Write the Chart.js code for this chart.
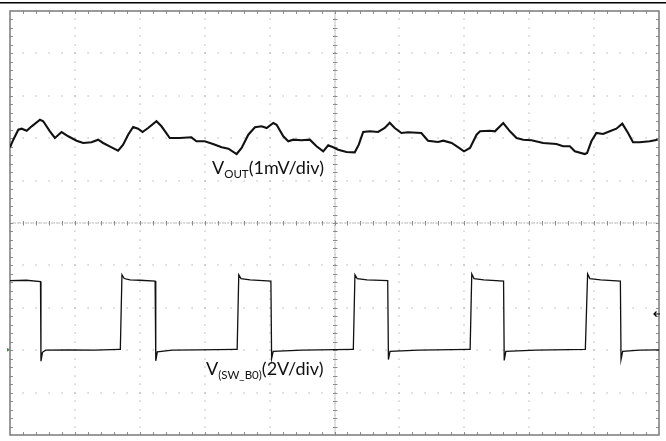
<!DOCTYPE html>
<html>
<head>
<meta charset="utf-8">
<script src="https://cdn.jsdelivr.net/npm/chart.js@4.4.1/dist/chart.umd.min.js"></script>
<style>
  html, body { margin: 0; padding: 0; background: #ffffff; }
  #wrap { width: 666px; height: 441px; position: relative; }
</style>
</head>
<body>
<div id="wrap"><canvas id="c" width="666" height="441"></canvas></div>
<script>
// Screen geometry in divisions
const X_DIVS = 10;
const Y_MIN = -5, Y_MAX = 5;

// Trace 1: V_OUT (1 mV/div) — time in divisions, level in divisions
const voutTime = [0,0.051,0.128,0.18,0.257,0.334,0.462,0.512,0.615,0.692,0.795,0.897,1.026,1.128,1.257,1.358,1.435,1.565,1.666,1.743,1.82,1.897,1.974,2.042,2.128,2.257,2.334,2.462,2.615,2.795,2.872,3.0,3.128,3.262,3.365,3.492,3.569,3.672,3.774,3.877,3.954,4.057,4.108,4.211,4.288,4.365,4.492,4.62,4.723,4.826,4.903,4.98,5.057,5.185,5.312,5.374,5.442,5.543,5.672,5.774,5.851,5.928,6.031,6.134,6.338,6.441,6.595,6.677,6.805,6.908,6.995,7.088,7.189,7.242,7.395,7.472,7.6,7.703,7.805,7.908,8.035,8.215,8.42,8.523,8.626,8.703,8.857,8.892,8.958,9.035,9.138,9.242,9.343,9.435,9.523,9.6,9.703,9.857,9.98];
const voutLevel = [1.785,1.965,2.2,2.224,2.177,2.28,2.436,2.399,2.163,2.005,2.146,2.045,1.941,1.887,1.903,1.965,1.887,1.785,1.705,1.847,2.083,2.264,2.224,2.146,2.241,2.399,2.281,2.005,2.005,2.021,1.927,1.927,1.863,1.785,1.752,1.627,1.769,2.083,2.257,2.281,2.241,2.358,2.318,2.045,1.927,1.965,1.95,1.965,1.809,1.691,1.833,1.785,1.729,1.675,1.667,1.847,2.146,2.163,2.146,2.241,2.366,2.241,2.123,2.139,2.123,1.941,1.91,1.941,1.887,1.785,1.691,1.769,2.083,2.163,2.177,2.163,2.358,2.163,2.005,1.965,1.95,1.887,1.863,1.809,1.809,1.691,1.627,1.651,1.927,2.123,2.099,2.163,2.224,2.342,2.123,1.903,1.903,1.927,1.965];

// Trace 2: V(SW_B0) (2 V/div)
const swTime = [0,0.25,0.47,0.477,0.5,0.55,0.9,1.3,1.69,
  1.70,1.725,1.76,1.85,2.0,2.236,2.246,2.27,2.5,2.9,3.49,
  3.50,3.525,3.56,3.7,4.02,4.031,4.055,4.5,5.28,
  5.29,5.315,5.35,5.5,5.82,5.831,5.855,6.3,7.08,
  7.09,7.115,7.15,7.3,7.605,7.615,7.64,8.1,8.865,
  8.875,8.9,8.935,9.1,9.405,9.415,9.44,9.7,10];
const swLevel = [-1.36,-1.35,-1.38,-3.26,-3.05,-3.0,-2.99,-3.0,-2.98,
  -2.98,-1.22,-1.31,-1.34,-1.35,-1.37,-3.25,-3.04,-3.0,-2.99,-2.98,
  -2.98,-1.22,-1.31,-1.34,-1.37,-3.2,-3.03,-3.0,-2.98,
  -2.98,-1.22,-1.31,-1.34,-1.36,-3.22,-3.03,-3.0,-2.98,
  -2.98,-1.2,-1.31,-1.34,-1.37,-3.24,-3.03,-3.0,-2.98,
  -2.98,-1.2,-1.31,-1.34,-1.37,-3.22,-3.03,-3.0,-2.99];

// Marker levels (divisions)
const triggerLevel = -2.146;
const ch2Ground = -2.99;

const toPts = (xs, ys) => xs.map((v, i) => ({ x: v, y: ys[i] }));

const scopePlugin = {
  id: 'scope',
  beforeDatasetsDraw(chart) {
    const { ctx, chartArea: a, scales: { x, y } } = chart;
    ctx.save();
    // dotted major grid lines
    ctx.fillStyle = '#a0a0a0';
    for (let i = 1; i < X_DIVS; i++) {
      if (i === X_DIVS / 2) continue;
      const px = Math.round(x.getPixelForValue(i));
      for (let j = 1; j < (Y_MAX - Y_MIN) * 5; j++) {
        const py = Math.round(y.getPixelForValue(Y_MIN + j / 5));
        ctx.fillRect(px - 0.5, py - 0.5, 1, 1.2);
      }
    }
    for (let k = Y_MIN + 1; k < Y_MAX; k++) {
      if (k === 0) continue;
      const py = Math.round(y.getPixelForValue(k));
      for (let j = 1; j < X_DIVS * 5; j++) {
        const px = Math.round(x.getPixelForValue(j / 5));
        ctx.fillRect(px - 0.5, py - 0.5, 1.2, 1);
      }
    }
    // center cross lines, finely dotted, with minor ticks
    const cx = Math.round(x.getPixelForValue(X_DIVS / 2));
    const cy = Math.round(y.getPixelForValue(0));
    ctx.fillStyle = '#8c8c8c';
    for (let j = 1; j < X_DIVS * 25; j++) {
      const px = Math.round(x.getPixelForValue(j / 25));
      ctx.fillRect(px - 0.5, cy - 0.5, 1.2, 1);
    }
    for (let j = 1; j < (Y_MAX - Y_MIN) * 25; j++) {
      const py = Math.round(y.getPixelForValue(Y_MIN + j / 25));
      ctx.fillRect(cx - 0.5, py - 0.5, 1, 1);
    }
    ctx.strokeStyle = '#8c8c8c';
    ctx.lineWidth = 1;
    ctx.beginPath();
    for (let j = 1; j < X_DIVS * 5; j++) {
      const px = Math.round(x.getPixelForValue(j / 5)) + 0.5;
      ctx.moveTo(px, cy - 2); ctx.lineTo(px, cy + 2.5);
      ctx.moveTo(px, a.top); ctx.lineTo(px, a.top + 3);
      ctx.moveTo(px, a.bottom); ctx.lineTo(px, a.bottom - 3);
    }
    for (let j = 1; j < (Y_MAX - Y_MIN) * 5; j++) {
      const py = Math.round(y.getPixelForValue(Y_MIN + j / 5)) + 0.5;
      ctx.moveTo(cx - 2, py); ctx.lineTo(cx + 2.5, py);
      ctx.moveTo(a.left, py); ctx.lineTo(a.left + 3, py);
      ctx.moveTo(a.right, py); ctx.lineTo(a.right - 3, py);
    }
    ctx.stroke();
    // frame
    ctx.strokeStyle = '#7a7a7a';
    ctx.lineWidth = 1.5;
    ctx.strokeRect(a.left, a.top, a.right - a.left, a.bottom - a.top);
    ctx.restore();
  },
  afterDatasetsDraw(chart) {
    const { ctx, chartArea: a, scales: { x, y } } = chart;
    ctx.save();
    // top black rule
    ctx.strokeStyle = '#000';
    ctx.lineWidth = 1.6;
    ctx.beginPath(); ctx.moveTo(0, 2.8); ctx.lineTo(chart.width, 2.8); ctx.stroke();
    // trigger level arrow on right
    const ty = y.getPixelForValue(triggerLevel);
    ctx.lineWidth = 1.2;
    ctx.beginPath();
    ctx.moveTo(a.right - 5, ty); ctx.lineTo(a.right + 1, ty);
    ctx.moveTo(a.right - 2.5, ty - 2.5); ctx.lineTo(a.right - 5, ty); ctx.lineTo(a.right - 2.5, ty + 2.5);
    ctx.stroke();
    // channel ground marker on left
    const gy = y.getPixelForValue(ch2Ground);
    ctx.fillStyle = '#3f8f5a';
    ctx.beginPath(); ctx.moveTo(a.left - 3, gy - 2); ctx.lineTo(a.left, gy); ctx.lineTo(a.left - 3, gy + 2); ctx.fill();
    // labels
    ctx.fillStyle = '#111';
    ctx.textBaseline = 'alphabetic';
    const label = (x0, base, main, sub, tail) => {
      ctx.font = '18px Lato, "Open Sans", sans-serif';
      ctx.fillText(main, x0, base);
      let xx = x0 + ctx.measureText(main).width;
      ctx.font = '11.5px Lato, "Open Sans", sans-serif';
      ctx.fillText(sub, xx, base + 4);
      xx += ctx.measureText(sub).width;
      ctx.font = '18px Lato, "Open Sans", sans-serif';
      ctx.fillText(tail, xx, base);
    };
    label(212, 174, 'V', 'OUT', '(1mV/div)');
    label(206, 375, 'V', '(SW_B0)', '(2V/div)');
    ctx.restore();
  }
};

new Chart(document.getElementById('c'), {
  type: 'scatter',
  data: {
    datasets: [
      { label: 'VOUT', data: toPts(voutTime, voutLevel), showLine: true, borderColor: '#111', borderWidth: 2.1, pointRadius: 0, tension: 0 },
      { label: 'V(SW_B0)', data: toPts(swTime, swLevel), showLine: true, borderColor: '#111', borderWidth: 1.3, pointRadius: 0, tension: 0 }
    ]
  },
  options: {
    responsive: false,
    animation: false,
    devicePixelRatio: 1,
    layout: { padding: { left: 10, top: 11, right: 7, bottom: 6 } },
    scales: {
      x: { type: 'linear', min: 0, max: X_DIVS, display: false },
      y: { type: 'linear', min: Y_MIN, max: Y_MAX, display: false }
    },
    plugins: { legend: { display: false }, tooltip: { enabled: false } }
  },
  plugins: [scopePlugin]
});
</script>
</body>
</html>
